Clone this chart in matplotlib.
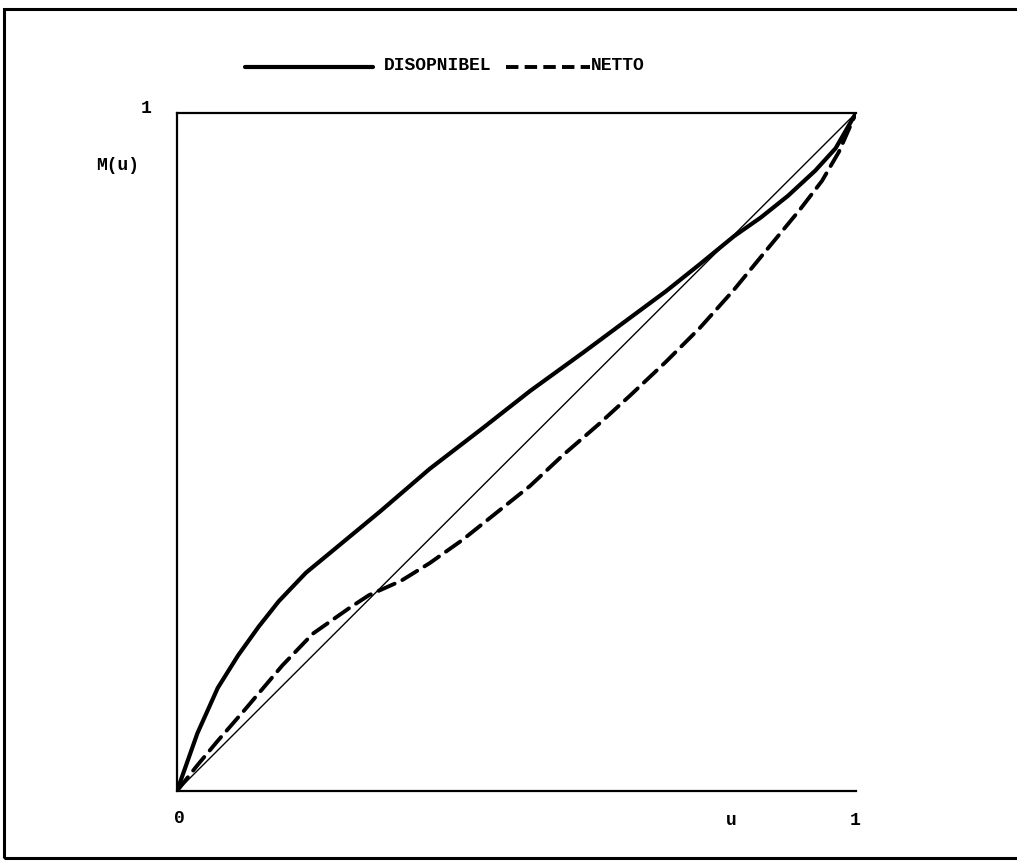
import matplotlib
matplotlib.use("Agg")
import matplotlib.pyplot as plt
from matplotlib.patches import Rectangle
from matplotlib.lines import Line2D

# Кривые (u, M(u))
u_disp = [0, 0.03, 0.06, 0.09, 0.12, 0.15, 0.19, 0.23, 0.30, 0.372, 0.45,
          0.52, 0.60, 0.67, 0.72, 0.77, 0.82, 0.86, 0.90, 0.94, 0.97, 1]
m_disp = [0, 0.085, 0.152, 0.20, 0.242, 0.28, 0.322, 0.355, 0.413, 0.475, 0.535,
          0.59, 0.648, 0.70, 0.737, 0.777, 0.818, 0.846, 0.878, 0.915, 0.948, 1]

u_netto = [0, 0.03, 0.06, 0.10, 0.155, 0.20, 0.254, 0.283, 0.33, 0.372, 0.42,
           0.47, 0.52, 0.568, 0.62, 0.667, 0.72, 0.77, 0.82, 0.87, 0.917,
           0.95, 0.975, 1]
m_netto = [0, 0.038, 0.074, 0.12, 0.185, 0.232, 0.27, 0.289, 0.31, 0.336, 0.37,
           0.41, 0.45, 0.495, 0.54, 0.583, 0.633, 0.683, 0.739, 0.80, 0.857,
           0.90, 0.943, 1]

u_diag = [0, 1]
m_diag = [0, 1]

legend_labels = ['DISOPNIBEL', 'NETTO']

font = 'Liberation Mono'
W, H = 1017, 861
fig = plt.figure(figsize=(W / 100, H / 100), dpi=100)
ax = fig.add_axes([177 / W, 1 - 791 / H, (856 - 177) / W, (791 - 113) / H])

ax.plot(u_diag, m_diag, color='black', lw=1.0)
ax.plot(u_disp, m_disp, color='black', lw=3.0, solid_capstyle='round',
        solid_joinstyle='round')
ax.plot(u_netto, m_netto, color='black', lw=2.8, dashes=(4.5, 2.2),
        dash_capstyle='round', dash_joinstyle='round')

ax.set_xlim(0, 1)
ax.set_ylim(0, 1)
ax.spines['right'].set_visible(False)
for s in ['left', 'top', 'bottom']:
    ax.spines[s].set_linewidth(1.6)
ax.set_xticks([])
ax.set_yticks([])

# подписи осей
fs = 13
kw = dict(fontsize=fs, family=font, fontweight='bold', ha='center', va='center')
ax.text(-0.046, 1.007, '1', **kw)
ax.text(-0.088, 0.923, 'M(u)', **kw)
ax.text(0.003, -0.040, '0', **kw)
ax.text(0.817, -0.044, 'u', **kw)
ax.text(0.999, -0.044, '1', **kw)

# легенда сверху
fig.add_artist(Line2D([245 / W, 373 / W], [1 - 67 / H] * 2, color='black', lw=3.0,
                      solid_capstyle='round'))
fig.text(384 / W, 1 - 66 / H, legend_labels[0], fontsize=fs, family=font,
         fontweight='bold', ha='left', va='center')
fig.add_artist(Line2D([506 / W, 590 / W], [1 - 67 / H] * 2, color='black', lw=2.8,
                      dashes=(3.2, 1.6)))
fig.text(591 / W, 1 - 66 / H, legend_labels[1], fontsize=fs, family=font,
         fontweight='bold', ha='left', va='center')

# рамка вокруг рисунка
fig.add_artist(Rectangle((4 / W, 3 / H), 1.1, (858 - 9) / H, transform=fig.transFigure,
                         fill=False, lw=2.2, ec='black', clip_on=False))

fig.savefig('out.png', dpi=100)
